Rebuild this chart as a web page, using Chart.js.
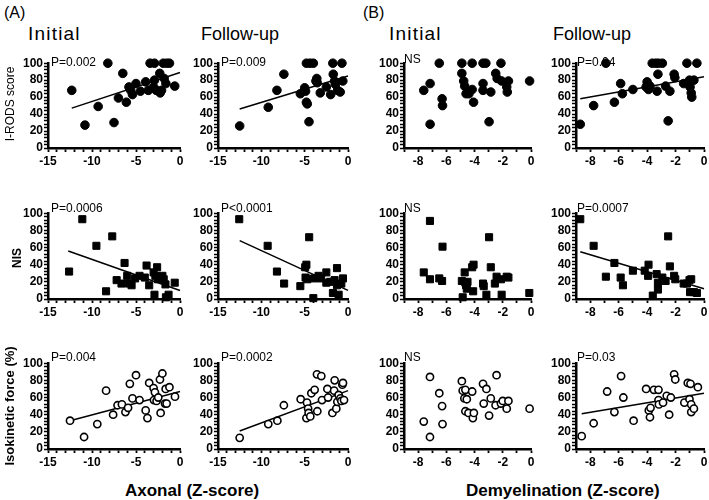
<!DOCTYPE html>
<html>
<head>
<meta charset="utf-8">
<script src="https://cdn.jsdelivr.net/npm/chart.js@4.4.1/dist/chart.umd.min.js"></script>
<style>
body { margin: 0; background: #fff; }
#wrap { position: relative; width: 709px; height: 500px; overflow: hidden; font-family: 'Liberation Sans', Arial, sans-serif; color: #000; }
#wrap canvas { position: absolute; }
.t { position: absolute; white-space: nowrap; line-height: 1; }
.rot { position: absolute; white-space: nowrap; line-height: 1; transform: translate(-50%, -50%) rotate(-90deg); }
</style>
</head>
<body>
<div id="wrap"></div>
<script>
// tick labels
const xLabelsAxonal = [-15, -10, -5, 0];
const xLabelsDemy = [-8, -6, -4, -2, 0];
const yLabels = [0, 20, 40, 60, 80, 100];

const colTitles = ['Initial', 'Follow-up', 'Initial', 'Follow-up'];
const rowTitles = ['I-RODS score', 'NIS', 'Isokinetic force (%)'];
const pLabels = [
    ['P=0.002', 'P=0.009', 'NS', 'P=0.04'],
    ['P=0.0006', 'P<0.0001', 'NS', 'P=0.0007'],
    ['P=0.004', 'P=0.0002', 'NS', 'P=0.03']
];

// I-RODS score
const rodsAxInitX = [-12.3, -10.8, -9.3, -8.2, -7.5, -7.0, -6.5, -6.1, -5.8, -5.6, -5.4, -5.0, -4.5, -3.9, -3.6, -3.4, -2.9, -2.9, -3.0, -2.7, -2.3, -2.25, -2.1, -1.9, -1.8, -1.6, -1.2, -1.5, -0.6];
const rodsAxInitY = [68, 27, 49, 100, 30, 59, 88, 54, 72, 68, 63, 76, 67, 78, 68, 100, 100, 80, 72, 68, 88, 65, 68, 100, 82, 76, 100, 100, 73];
const rodsAxInitFitX = [-12.3, 0];
const rodsAxInitFitY = [47, 89];

const rodsAxFuX = [-12.5, -9.2, -8.2, -7.4, -5.5, -5.0, -4.9, -4.8, -4.7, -4.8, -4.4, -4.0, -4.5, -3.6, -3.7, -3.55, -3.2, -2.5, -2.0, -1.75, -1.7, -1.55, -1.45, -1.2, -0.9, -0.7, -0.6];
const rodsAxFuY = [26, 48, 68, 87, 64, 71, 67, 54, 52, 100, 100, 100, 31, 82, 79, 77, 65, 72, 63, 100, 87, 79, 75, 68, 66, 100, 79];
const rodsAxFuFitX = [-12.5, 0];
const rodsAxFuFitY = [46, 85];

const rodsDmInitX = [-7.6, -7.15, -7.15, -6.5, -6.3, -6.27, -4.9, -4.9, -4.77, -4.7, -4.6, -4.4, -4.17, -4.17, -4.07, -3.4, -3.2, -3.4, -3.4, -2.97, -2.85, -2.5, -2.4, -2.13, -2.08, -1.72, -1.68, -1.6, -0.1];
const rodsDmInitY = [68, 76, 28, 100, 58, 50, 100, 88, 79, 73, 64, 64, 100, 69, 54, 100, 100, 76, 68, 31, 66, 88, 82, 100, 79, 72, 66, 79, 79];

const rodsDmFuX = [-8.7, -7.76, -6.9, -6.3, -5.86, -5.74, -5.0, -4.07, -4.0, -3.9, -3.8, -3.64, -3.4, -3.2, -2.93, -3.3, -3.24, -2.7, -2.52, -2.4, -2.1, -2.05, -1.43, -1.2, -1.02, -0.98, -0.9, -0.86, -0.71, -0.5];
const rodsDmFuY = [28, 50, 100, 54, 76, 64, 69, 72, 78, 69, 73, 100, 100, 100, 100, 67, 87, 73, 32, 67, 87, 83, 76, 100, 80, 72, 65, 60, 80, 100];
const rodsDmFuFitX = [-8.7, 0];
const rodsDmFuFitY = [58, 84];

// NIS
const nisAxInitX = [-12.6, -11.1, -9.5, -8.4, -7.7, -7.2, -6.65, -6.3, -6.0, -5.8, -5.5, -5.1, -4.6, -4.0, -3.8, -3.5, -3.0, -2.9, -2.8, -2.6, -2.5, -2.0, -1.85, -1.65, -1.6, -1.3, -0.6];
const nisAxInitY = [32, 93, 62, 9, 73, 22, 18, 42, 27, 18, 16, 24, 27, 25, 39, 16, 31, 5, 27, 37, 23, 27, 23, 17, 2, 5, 19];
const nisAxInitFitX = [-12.7, 0];
const nisAxInitFitY = [56, 10];

const nisAxFuX = [-12.55, -9.27, -8.2, -7.37, -5.5, -4.94, -4.8, -4.9, -4.48, -4.7, -4.0, -3.9, -3.4, -3.1, -2.5, -2.5, -2.05, -1.74, -1.55, -1.27, -1.27, -1.08, -0.77, -0.58];
const nisAxFuY = [93, 62, 32, 18, 15, 37, 40, 25, 72, 23, 1, 24, 27, 24, 31, 19, 20, 7, 22, 36, 16, 5, 18, 24];
const nisAxFuFitX = [-12.5, 0];
const nisAxFuFitY = [68, 10];

const nisDmInitX = [-7.6, -7.16, -7.16, -6.5, -6.3, -6.27, -4.9, -4.84, -4.7, -4.65, -4.6, -4.55, -4.5, -4.17, -4.07, -4.1, -3.4, -3.35, -3.16, -2.97, -2.85, -2.56, -2.44, -2.13, -2.08, -1.72, -1.6, -0.12];
const nisDmInitY = [31, 91, 23, 24, 21, 61, 21, 2, 31, 19, 16, 12, 20, 37, 40, 9, 18, 15, 5, 72, 37, 18, 26, 23, 5, 26, 25, 7];

const nisDmFuX = [-8.7, -7.76, -6.9, -6.3, -5.86, -5.7, -5.0, -4.17, -3.9, -3.93, -3.6, -3.33, -3.24, -3.24, -2.93, -2.7, -2.52, -2.4, -2.1, -2.02, -1.43, -1.2, -1.02, -0.98, -0.9, -0.71, -0.5];
const nisDmFuY = [93, 62, 26, 42, 25, 16, 33, 33, 40, 27, 4, 29, 19, 11, 25, 21, 73, 38, 27, 23, 18, 18, 22, 8, 23, 8, 7];
const nisDmFuFitX = [-8.7, 0];
const nisDmFuFitY = [55, 12];

// Isokinetic force
const forceAxInitX = [-12.5, -10.9, -9.4, -8.4, -7.6, -7.1, -6.6, -6.2, -5.9, -5.7, -5.4, -5.0, -4.6, -3.9, -3.7, -3.5, -3.0, -2.96, -2.85, -2.66, -2.47, -2.28, -2.2, -2.0, -1.7, -1.63, -1.52, -1.2, -0.57];
const forceAxInitY = [33, 14, 29, 68, 40, 51, 52, 43, 48, 76, 59, 86, 57, 45, 36, 77, 71, 57, 66, 56, 60, 81, 42, 88, 53, 70, 53, 72, 61];
const forceAxInitFitX = [-12.5, 0];
const forceAxInitFitY = [33, 67];

const forceAxFuX = [-12.5, -9.2, -8.15, -7.4, -5.46, -4.8, -4.73, -4.6, -4.54, -4.35, -4.23, -3.85, -3.58, -3.54, -3.08, -3.0, -2.38, -2.3, -1.8, -1.6, -1.54, -1.35, -1.23, -1.08, -0.88, -0.77, -0.65, -0.58, -0.46];
const forceAxFuY = [13, 29, 33, 51, 58, 36, 54, 47, 42, 38, 65, 69, 87, 44, 85, 57, 70, 60, 42, 68, 80, 47, 55, 63, 59, 56, 75, 77, 57];
const forceAxFuFitX = [-12.5, 0];
const forceAxFuFitY = [21, 68];

const forceDmInitX = [-7.6, -7.16, -7.16, -6.5, -6.3, -6.27, -4.9, -4.84, -4.72, -4.65, -4.65, -4.55, -4.43, -4.17, -4.12, -4.05, -3.4, -3.35, -3.16, -2.97, -2.85, -2.51, -2.44, -2.13, -2.0, -1.72, -1.6, -0.1];
const forceDmInitY = [32, 84, 14, 65, 50, 29, 79, 68, 59, 69, 44, 58, 42, 67, 36, 42, 76, 53, 70, 39, 59, 51, 86, 53, 56, 47, 56, 47];

const forceDmFuX = [-8.6, -7.76, -6.81, -6.3, -5.83, -5.67, -4.95, -4.07, -3.88, -3.8, -3.76, -3.52, -3.2, -3.2, -3.17, -2.88, -2.62, -2.45, -2.33, -2.1, -2.02, -1.38, -1.14, -0.95, -1.02, -0.9, -0.9, -0.71, -0.43];
const forceDmFuY = [15, 30, 67, 43, 85, 60, 33, 70, 45, 37, 48, 69, 69, 57, 52, 54, 62, 40, 60, 87, 81, 54, 77, 76, 58, 52, 43, 47, 72];
const forceDmFuFitX = [-8.6, 0];
const forceDmFuFitY = [41, 65];

// layout of the plot areas
const colLeft = [48, 218, 404, 576];
const colRight = [180, 348, 531, 704];
const rowTop = [63, 213, 363];
const rowBottom = [148, 299, 449];
const PAD_L = 42, PAD_T = 8, PAD_R = 8, PAD_B = 24;

const markerStyle = ['circle', 'rect', 'circle'];
const markerRadius = [4.3, 5, 3.6];
const markerFill = ['#000', '#000', '#fff'];
const markerBorder = [1, 1, 1.6];

Chart.defaults.font.family = "'Liberation Sans', Arial, sans-serif";
Chart.defaults.color = '#000';

var wrap = document.getElementById('wrap');

function addText(txt, left, baseline, size, weight, extra) {
    var d = document.createElement('div');
    d.className = 't';
    d.textContent = txt;
    d.style.left = left + 'px';
    d.style.top = (baseline - size * 0.85) + 'px';
    d.style.fontSize = size + 'px';
    d.style.fontWeight = weight;
    if (extra) d.style.letterSpacing = extra + 'px';
    wrap.appendChild(d);
}

function addRotText(txt, cx, cy, size, weight) {
    var d = document.createElement('div');
    d.className = 'rot';
    d.textContent = txt;
    d.style.left = cx + 'px';
    d.style.top = cy + 'px';
    d.style.fontSize = size + 'px';
    d.style.fontWeight = weight;
    wrap.appendChild(d);
}

function makePanel(r, c, xs, ys, fitX, fitY) {
    var L = colLeft[c], R = colRight[c], T = rowTop[r], B = rowBottom[r];
    var w = R - L + PAD_L + PAD_R, h = B - T + PAD_T + PAD_B;
    var cv = document.createElement('canvas');
    cv.width = w;
    cv.height = h;
    cv.style.left = (L - PAD_L) + 'px';
    cv.style.top = (T - PAD_T) + 'px';
    cv.style.width = w + 'px';
    cv.style.height = h + 'px';
    wrap.appendChild(cv);

    var axonal = c < 2;
    var xLabels = axonal ? xLabelsAxonal : xLabelsDemy;

    var datasets = [{
        type: 'scatter',
        data: xs.map((x, i) => ({ x: x, y: ys[i] })),
        pointStyle: markerStyle[r],
        pointRadius: markerRadius[r],
        backgroundColor: markerFill[r],
        borderColor: '#000',
        borderWidth: markerBorder[r],
        clip: false
    }];
    if (fitX) {
        datasets.push({
            type: 'line',
            data: fitX.map((x, i) => ({ x: x, y: fitY[i] })),
            borderColor: '#000',
            borderWidth: 1.5,
            pointRadius: 0,
            fill: false,
            clip: false
        });
    }

    new Chart(cv, {
        type: 'scatter',
        data: { datasets: datasets },
        options: {
            responsive: false,
            animation: false,
            layout: { padding: { top: PAD_T, right: PAD_R, left: 0, bottom: 0 } },
            plugins: { legend: { display: false }, tooltip: { enabled: false } },
            scales: {
                x: {
                    type: 'linear',
                    min: axonal ? -15 : -9,
                    max: 0,
                    afterFit: s => { s.height = PAD_B; },
                    grid: { display: true, drawOnChartArea: false, tickLength: 4, tickWidth: 1.8, tickColor: '#000' },
                    border: { display: true, color: '#000', width: 2.5 },
                    ticks: {
                        stepSize: 1, autoSkip: false, maxRotation: 0, minRotation: 0,
                        padding: 2, color: '#000',
                        font: { size: 12, weight: 'bold' },
                        callback: v => xLabels.includes(v) ? String(v) : ''
                    }
                },
                y: {
                    min: 0,
                    max: 100,
                    afterFit: s => { s.width = PAD_L; },
                    grid: { display: true, drawOnChartArea: false, tickLength: 4, tickWidth: 1.5, tickColor: '#000' },
                    border: { display: true, color: '#000', width: 2.5 },
                    ticks: {
                        stepSize: 4, autoSkip: false,
                        padding: 1, color: '#000',
                        font: { size: 12, weight: 'bold' },
                        callback: v => yLabels.includes(v) ? String(v) : ''
                    }
                }
            }
        }
    });
}

makePanel(0, 0, rodsAxInitX, rodsAxInitY, rodsAxInitFitX, rodsAxInitFitY);
makePanel(0, 1, rodsAxFuX, rodsAxFuY, rodsAxFuFitX, rodsAxFuFitY);
makePanel(0, 2, rodsDmInitX, rodsDmInitY);
makePanel(0, 3, rodsDmFuX, rodsDmFuY, rodsDmFuFitX, rodsDmFuFitY);

makePanel(1, 0, nisAxInitX, nisAxInitY, nisAxInitFitX, nisAxInitFitY);
makePanel(1, 1, nisAxFuX, nisAxFuY, nisAxFuFitX, nisAxFuFitY);
makePanel(1, 2, nisDmInitX, nisDmInitY);
makePanel(1, 3, nisDmFuX, nisDmFuY, nisDmFuFitX, nisDmFuFitY);

makePanel(2, 0, forceAxInitX, forceAxInitY, forceAxInitFitX, forceAxInitFitY);
makePanel(2, 1, forceAxFuX, forceAxFuY, forceAxFuFitX, forceAxFuFitY);
makePanel(2, 2, forceDmInitX, forceDmInitY);
makePanel(2, 3, forceDmFuX, forceDmFuY, forceDmFuFitX, forceDmFuFitY);

// texts
addText('(A)', 4, 19, 16, 'normal');
addText('(B)', 363, 19, 16, 'normal');
var titleLeft = [28, 201, 389, 553];
colTitles.forEach((t, i) => {
    addText(t, titleLeft[i], 40, t === 'Initial' ? 19 : 18, 'normal', t === 'Initial' ? 1.2 : 0);
});

var pLeft = [51, 221, 404, 577];
var pBase = [66, 212, 361];
pLabels.forEach((row, r) => {
    row.forEach((t, c) => {
        addText(t, pLeft[c], pBase[r] - (t === 'NS' && r === 0 ? 3 : 0), 12, 'normal');
    });
});

addRotText(rowTitles[0], 10, 104, 12, 'normal');
addRotText(rowTitles[1], 17, 258, 12, 'bold');
addRotText(rowTitles[2], 9, 406, 13, 'bold');

addText('Axonal (Z-score)', 125, 496, 17, 'bold');
addText('Demyelination  (Z-score)', 466, 496, 17, 'bold');
</script>
</body>
</html>
